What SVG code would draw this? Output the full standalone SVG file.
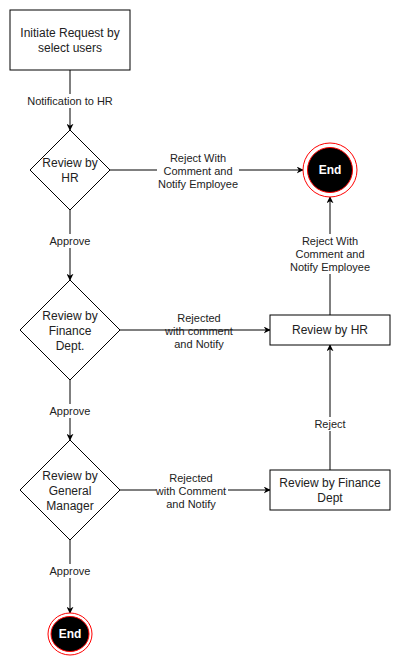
<svg xmlns="http://www.w3.org/2000/svg" width="401" height="661" viewBox="0 0 401 661">
<defs>
<marker id="arr" viewBox="0 0 10 10" refX="9" refY="5" markerWidth="7" markerHeight="7" markerUnits="userSpaceOnUse" orient="auto">
<path d="M0,0 L10,5 L0,10 L3,5 Z" fill="#000"/>
</marker>
<style>
.shape{fill:#fff;stroke:#000;stroke-width:1}
.edge{fill:none;stroke:#000;stroke-width:1;marker-end:url(#arr)}
.nt{font-family:"Liberation Sans",Arial,sans-serif;font-size:12px;fill:#222;text-anchor:middle}
.lt{font-family:"Liberation Sans",Arial,sans-serif;font-size:11px;fill:#222;text-anchor:middle}
.lbg{fill:#fff}
.end{font-family:"Liberation Sans",Arial,sans-serif;font-size:12px;font-weight:bold;fill:#fff;text-anchor:middle}
</style>
</defs>
<rect width="401" height="661" fill="#fff"/>
<g id="connectors">
<path class="edge" d="M70,70 L70,130"/>
<path class="edge" d="M110,170 L303,170"/>
<path class="edge" d="M70,210 L70,280"/>
<path class="edge" d="M120,330 L270,330"/>
<path class="edge" d="M70,380 L70,440"/>
<path class="edge" d="M120,490 L270,490"/>
<path class="edge" d="M70,540 L70,613"/>
<path class="edge" d="M330,315 L330,197"/>
<path class="edge" d="M330,470 L330,345"/>
<g id="labels">
<rect class="lbg" x="27" y="94" width="86" height="14"/>
<text class="lt" x="70" y="105">Notification to HR</text>
<rect class="lbg" x="157" y="151" width="82" height="40"/>
<text class="lt" x="198" y="162">Reject With</text>
<text class="lt" x="198" y="175">Comment and</text>
<text class="lt" x="198" y="188">Notify Employee</text>
<rect class="lbg" x="48" y="234" width="44" height="14"/>
<text class="lt" x="70" y="245">Approve</text>
<rect class="lbg" x="289" y="234" width="82" height="40"/>
<text class="lt" x="330" y="245">Reject With</text>
<text class="lt" x="330" y="258">Comment and</text>
<text class="lt" x="330" y="271">Notify Employee</text>
<rect class="lbg" x="167" y="312" width="66" height="14"/>
<rect class="lbg" x="176" y="337" width="50" height="14"/>
<text class="lt" x="199" y="322">Rejected</text>
<text class="lt" x="199" y="335">with comment</text>
<text class="lt" x="199" y="348">and Notify</text>
<rect class="lbg" x="48" y="404" width="44" height="14"/>
<text class="lt" x="70" y="415">Approve</text>
<rect class="lbg" x="312" y="417" width="36" height="14"/>
<text class="lt" x="330" y="428">Reject</text>
<rect class="lbg" x="166" y="471" width="48" height="14"/>
<rect class="lbg" x="156" y="485" width="72" height="12"/>
<rect class="lbg" x="164" y="498" width="54" height="13"/>
<text class="lt" x="191" y="482">Rejected</text>
<text class="lt" x="191" y="495">with Comment</text>
<text class="lt" x="191" y="508">and Notify</text>
<rect class="lbg" x="48" y="564" width="44" height="14"/>
<text class="lt" x="70" y="575">Approve</text>
</g>
</g>
<g id="start">
<rect class="shape" x="10" y="10" width="120" height="60"/>
<text class="nt" x="70" y="37">Initiate Request by</text>
<text class="nt" x="70" y="52">select users</text>
</g>
<g id="review-hr-decision">
<path class="shape" d="M70,130 L110,170 L70,210 L30,170 Z"/>
<text class="nt" x="70" y="167">Review by</text>
<text class="nt" x="70" y="182">HR</text>
</g>
<g id="end-top">
<circle cx="330" cy="170" r="27" fill="#fff" stroke="#ff0000" stroke-width="1"/>
<circle cx="330" cy="170" r="22.5" fill="#000" stroke="#ff0000" stroke-width="1"/>
<text class="end" x="330" y="174">End</text>
</g>
<g id="review-finance-decision">
<path class="shape" d="M70,280 L120,330 L70,380 L20,330 Z"/>
<text class="nt" x="70" y="320">Review by</text>
<text class="nt" x="70" y="335">Finance</text>
<text class="nt" x="70" y="350">Dept.</text>
</g>
<g id="review-hr-box">
<rect class="shape" x="270" y="315" width="120" height="30"/>
<text class="nt" x="330" y="334">Review by HR</text>
</g>
<g id="review-gm-decision">
<path class="shape" d="M70,440 L120,490 L70,540 L20,490 Z"/>
<text class="nt" x="70" y="480">Review by</text>
<text class="nt" x="70" y="495">General</text>
<text class="nt" x="70" y="510">Manager</text>
</g>
<g id="review-finance-box">
<rect class="shape" x="270" y="470" width="120" height="40"/>
<text class="nt" x="330" y="487">Review by Finance</text>
<text class="nt" x="330" y="502">Dept</text>
</g>
<g id="end-bottom">
<ellipse cx="70" cy="634" rx="22" ry="21" fill="#fff" stroke="#ff0000" stroke-width="1"/>
<ellipse cx="70" cy="634" rx="19" ry="17.5" fill="#000" stroke="#ff0000" stroke-width="1"/>
<text class="end" x="70" y="638">End</text>
</g>
</svg>
